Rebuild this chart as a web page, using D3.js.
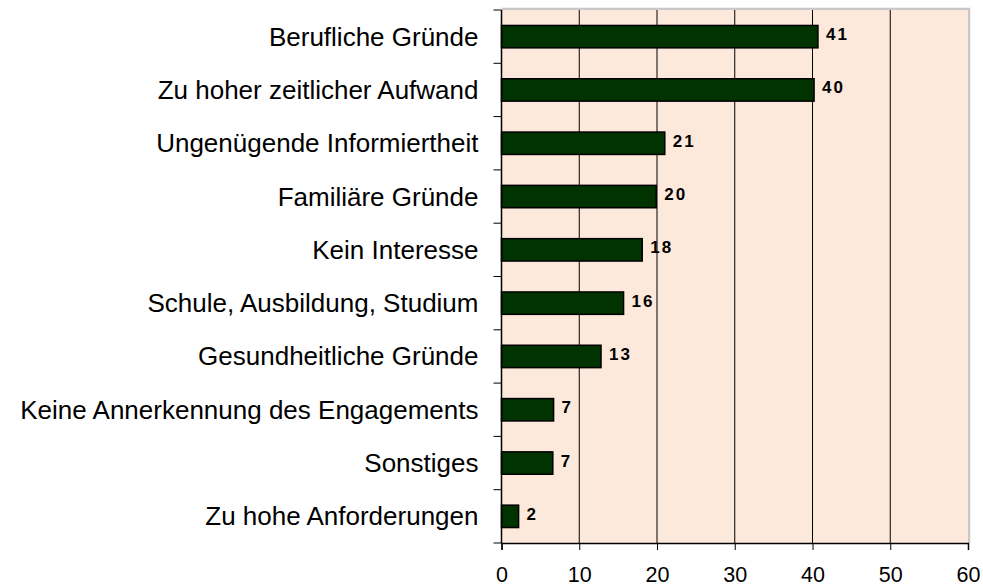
<!DOCTYPE html>
<html>
<head>
<meta charset="utf-8">
<script src="https://cdn.jsdelivr.net/npm/d3@7"></script>
<style>
  body { margin: 0; background: #fff; }
  svg { display: block; }
  .cat { font-family: Arial, "Liberation Sans", sans-serif; font-size: 26px; fill: #000; }
  .tick text { font-family: Arial, "Liberation Sans", sans-serif; font-size: 21.5px; fill: #000; }
  .val { font-family: Arial, "Liberation Sans", sans-serif; font-size: 17px; font-weight: bold; letter-spacing: 2px; }
</style>
</head>
<body>
<svg width="983" height="588"></svg>
<script>
// Data
var categories = [
  "Berufliche Gründe",
  "Zu hoher zeitlicher Aufwand",
  "Ungenügende Informiertheit",
  "Familiäre Gründe",
  "Kein Interesse",
  "Schule, Ausbildung, Studium",
  "Gesundheitliche Gründe",
  "Keine Annerkennung des Engagements",
  "Sonstiges",
  "Zu hohe Anforderungen"
];
var values = [40.7, 40.2, 21.0, 19.9, 18.1, 15.7, 12.8, 6.7, 6.6, 2.2];
var xTicks = [0, 10, 20, 30, 40, 50, 60];

var svg = d3.select("svg"),
  margin = {top: 10, right: 15, bottom: 45, left: 501.5},
  width = +svg.attr("width") - margin.left - margin.right,
  height = +svg.attr("height") - margin.top - margin.bottom;

var g = svg.append("g").attr("transform", "translate(" + margin.left + "," + margin.top + ")");

var x = d3.scaleLinear().domain([0, 60]).range([0, width]);
var y = d3.scaleBand().domain(categories).range([0, height]).paddingInner(0.58).paddingOuter(0.29);
var yEdge = d3.scaleBand().domain(categories).range([0, height]);

// shadow border (top / right)
g.append("path")
  .attr("d", "M0,-1H" + (width + 1) + "V" + height)
  .attr("fill", "none")
  .attr("stroke", "#c8c8c8")
  .attr("stroke-width", 2.5);

// plot background
g.append("rect")
  .attr("width", width)
  .attr("height", height)
  .attr("fill", "#fde9db");

// grid lines
g.selectAll(".grid")
  .data(xTicks.slice(1, -1))
  .enter().append("line")
  .attr("class", "grid")
  .attr("x1", function(d) { return x(d); })
  .attr("x2", function(d) { return x(d); })
  .attr("y1", 0)
  .attr("y2", height)
  .attr("stroke", "#000")
  .attr("stroke-width", 1);

// bars
g.selectAll(".bar")
  .data(values)
  .enter().append("rect")
  .attr("class", "bar")
  .attr("x", x(0))
  .attr("y", function(d, i) { return y(categories[i]); })
  .attr("width", function(d) { return x(d) - x(0); })
  .attr("height", y.bandwidth())
  .attr("fill", "#003300")
  .attr("stroke", "#000")
  .attr("stroke-width", 1.5);

// value labels
g.selectAll(".val")
  .data(values)
  .enter().append("text")
  .attr("class", "val")
  .attr("x", function(d) { return x(d) + 8; })
  .attr("y", function(d, i) { return y(categories[i]) + y.bandwidth() / 2 - 2; })
  .attr("dominant-baseline", "central")
  .text(function(d) { return d3.format(".0f")(d); });

// x axis
var xAxis = g.append("g")
  .attr("transform", "translate(0," + height + ")")
  .call(d3.axisBottom(x).tickValues(xTicks).tickSize(7).tickPadding(17));
xAxis.select(".domain").attr("stroke", "#000").attr("stroke-width", 1.5);
xAxis.selectAll(".tick line").attr("stroke", "#000");

// y axis: ticks at category boundaries
var yAxis = g.append("g");
yAxis.append("line")
  .attr("y1", 0).attr("y2", height)
  .attr("stroke", "#000").attr("stroke-width", 1.5);
yAxis.selectAll(".ytick")
  .data(categories.concat(["end"]))
  .enter().append("line")
  .attr("class", "ytick")
  .attr("x1", -8).attr("x2", 0)
  .attr("y1", function(d, i) { return i < categories.length ? yEdge(d) : height; })
  .attr("y2", function(d, i) { return i < categories.length ? yEdge(d) : height; })
  .attr("stroke", "#000");

// category labels
g.selectAll(".cat")
  .data(categories)
  .enter().append("text")
  .attr("class", "cat")
  .attr("x", -23)
  .attr("y", function(d) { return y(d) + y.bandwidth() / 2; })
  .attr("dominant-baseline", "central")
  .attr("text-anchor", "end")
  .text(function(d) { return d; });
</script>
</body>
</html>
